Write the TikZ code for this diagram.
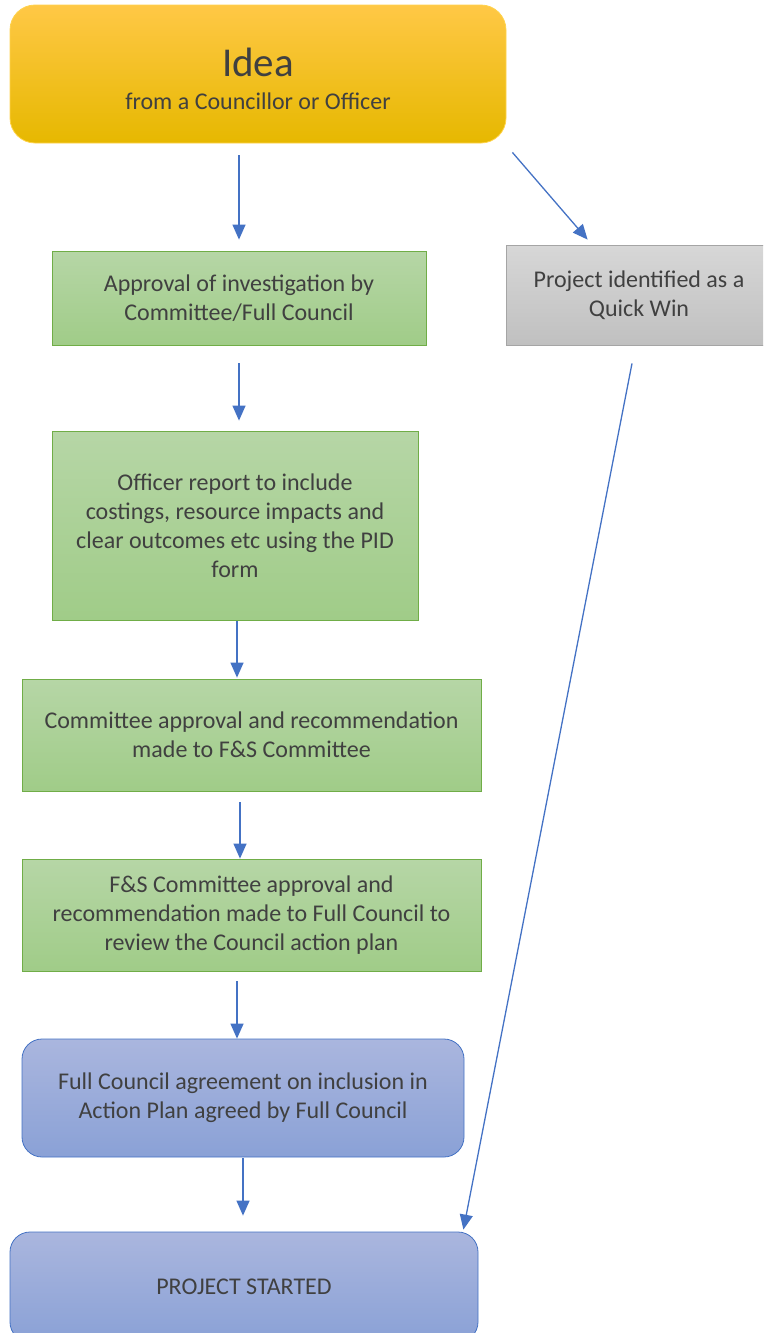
\documentclass[tikz,border=0pt]{standalone}
\usepackage{fontspec}
\setmainfont{Carlito}
\usetikzlibrary{arrows.meta, positioning}
\definecolor{ideatop}{RGB}{255,200,70}
\definecolor{ideamid}{RGB}{255,192,0}
\definecolor{ideabot}{RGB}{230,184,0}
\definecolor{greentop}{RGB}{182,214,166}
\definecolor{greenbot}{RGB}{160,204,136}
\definecolor{greenline}{RGB}{112,173,71}
\definecolor{greytop}{RGB}{215,215,215}
\definecolor{greybot}{RGB}{192,192,192}
\definecolor{greyline}{RGB}{165,165,165}
\definecolor{bluetop}{RGB}{170,182,222}
\definecolor{bluebot}{RGB}{138,161,214}
\definecolor{flowblue}{RGB}{68,114,196}
\definecolor{inktext}{RGB}{64,64,64}

\begin{document}
\begin{tikzpicture}[x=1pt, y=-1pt,
    ideabox/.style={rectangle, rounded corners=25pt, draw=ideamid!70!white, thick, top color=ideatop, middle color=ideamid, bottom color=ideabot, minimum width=496pt, minimum height=138pt, align=center, text=inktext},
    stepbox/.style={rectangle, draw=greenline, thick, top color=greentop, bottom color=greenbot, align=center, text=inktext, font=\fontsize{24}{29}\selectfont},
    quickbox/.style={rectangle, draw=greyline, thick, top color=greytop, bottom color=greybot, align=center, text=inktext, font=\fontsize{24}{29}\selectfont},
    endbox/.style={rectangle, rounded corners=20pt, draw=flowblue, thick, top color=bluetop, bottom color=bluebot, align=center, text=inktext, font=\fontsize{24}{29}\selectfont},
    flow/.style={draw=flowblue, line width=1.3pt, -{Triangle[length=15pt, width=13pt]}}
]
\clip (0,0) rectangle (763,1333);

\node[ideabox] (idea) at (258,74) {\fontsize{41}{41}\selectfont\rule{0pt}{39pt}Idea\\[15pt]\fontsize{24}{29}\selectfont from a Councillor or Officer};

\node[stepbox, minimum width=374pt, minimum height=94pt] (approval) at (239,298) {Approval of investigation by\\Committee/Full Council};
\node[quickbox, minimum width=266pt, minimum height=100pt] (quickwin) at (639,295) {Project identified as a\\Quick Win};
\node[stepbox, minimum width=366pt, minimum height=189pt] (report) at (235,525.5) {Officer report to include\\costings, resource impacts and\\clear outcomes etc using the PID\\form};
\node[stepbox, minimum width=459pt, minimum height=112pt] (committee) at (251.5,735) {Committee approval and recommendation\\made to F\&S Committee};
\node[stepbox, minimum width=459pt, minimum height=112pt] (fands) at (251.5,915) {F\&S Committee approval and\\recommendation made to Full Council to\\review the Council action plan};
\node[endbox, minimum width=442pt, minimum height=118pt] (fullcouncil) at (243,1098) {Full Council agreement on inclusion in\\Action Plan agreed by Full Council};
\node[endbox, minimum width=468pt, minimum height=110pt] (started) at (244,1287) {PROJECT STARTED};

% main route
\draw[flow, shorten <=12pt, shorten >=11pt] (approval.north |- idea.south) -- (approval.north);
\draw[flow, shorten <=18pt, shorten >=10pt] (approval.south) -- (approval.south |- report.north);
\draw[flow, shorten <=1pt, shorten >=1pt] ([xshift=2pt]report.south) -- ([xshift=2pt]report.south |- committee.north);
\draw[flow, shorten <=11pt] ([xshift=-11.5pt]committee.south) -- ([xshift=-11.5pt]fands.north);
\draw[flow, shorten <=10pt] ([xshift=-14.5pt]fands.south) -- ([xshift=-6pt]fullcouncil.north);
\draw[flow, shorten <=1pt, shorten >=16pt] (fullcouncil.south) -- (started.north -| fullcouncil.south);

% quick win route
\draw[flow] ([xshift=6pt, yshift=-9pt]idea.south east) -- ([xshift=82pt, yshift=5pt]quickwin.north west);
\draw[flow] ([xshift=-7pt, yshift=-18pt]quickwin.south) -- ([xshift=-15pt, yshift=2pt]started.north east);
\end{tikzpicture}
\end{document}
